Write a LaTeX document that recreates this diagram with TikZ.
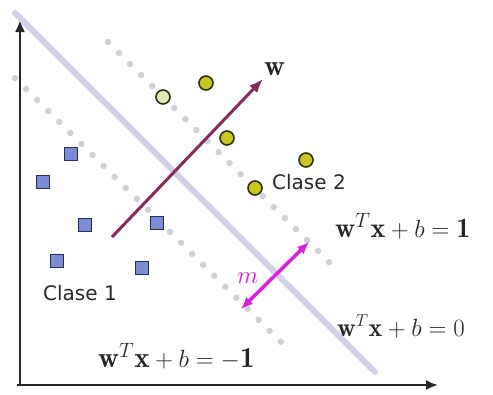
\documentclass[tikz,border=0pt]{standalone}
\usepackage{amsmath}
\usepackage{fontspec}
\newfontfamily\labelfont{DejaVu Sans}
\usetikzlibrary{arrows.meta}
\definecolor{hyper}{RGB}{208,208,230}
\definecolor{dotc}{RGB}{208,208,216}
\definecolor{wcol}{RGB}{135,42,92}
\definecolor{mcol}{RGB}{222,30,222}
\definecolor{sqfill}{RGB}{125,140,215}
\definecolor{sqdraw}{RGB}{40,45,85}
\definecolor{cfill}{RGB}{200,200,30}
\definecolor{cfillpale}{RGB}{226,232,182}
\definecolor{cdraw}{RGB}{45,45,25}
\definecolor{txt}{RGB}{40,40,40}
\tikzset{
  axis/.style={line width=2pt, draw=black!85, -{Latex[length=12pt,width=10pt]}},
  hyperline/.style={line width=6pt, draw=hyper, line cap=round},
  marginline/.style={line width=6.5pt, draw=dotc, line cap=round, dash pattern=on 0pt off 15.6pt},
  sqpt/.style={draw=sqdraw, fill=sqfill, line width=1.4pt, minimum size=13pt, inner sep=0pt, rectangle},
  cpt/.style={draw=cdraw, fill=cfill, line width=1.6pt, circle, minimum size=14pt, inner sep=0pt},
  clabel/.style={font=\labelfont\fontsize{20}{22}\selectfont, text=txt, inner sep=0pt, anchor=base west},
  eqlabel/.style={inner sep=0pt, anchor=base west, text=black!85}
}
\begin{document}
\begin{tikzpicture}[x=1pt,y=-1pt]
\useasboundingbox (0,0) rectangle (493,394);
% axes
\coordinate (o) at (20,385);
\coordinate (ytip) at (20,20);
\coordinate (xtip) at (438,385);
\coordinate (xo) at (17,385);
\draw[axis] (o) -- (ytip);
\draw[axis] (xo) -- (xtip);
% hyperplane and margins
\coordinate (h1) at (15,13);
\coordinate (h2) at (375,372);
\draw[hyperline] (h1) -- (h2);
\coordinate (u1) at (108,42);
\coordinate (u2) at (338,271);
\draw[marginline] (u1) -- (u2);
\coordinate (l1) at (15,78);
\coordinate (l2) at (288,349);
\draw[marginline] (l1) -- (l2);
% class 1 squares
\node[sqpt] (s1) at (71,154) {};
\node[sqpt] (s2) at (43,182) {};
\node[sqpt] (s3) at (85,225) {};
\node[sqpt] (s4) at (157,223) {};
\node[sqpt] (s5) at (57,261) {};
\node[sqpt] (s6) at (142,268) {};
% class 2 circles
\node[cpt, fill=cfillpale] (c1) at (163,97) {};
\node[cpt] (c2) at (206,83) {};
\node[cpt] (c3) at (227,138) {};
\node[cpt] (c4) at (306,160) {};
\node[cpt] (c5) at (255,188) {};
% w vector
\coordinate (w0) at (112,237);
\coordinate (w1) at (263,79);
\draw[line width=3pt, draw=wcol, -{Latex[length=14pt,width=11pt]}] (w0) -- (w1);
\node[eqlabel, font=\fontsize{29}{30}\selectfont] (wl) at (264,75) {$\mathbf{w}$};
% margin arrow
\coordinate (m0) at (241,309);
\coordinate (m1) at (309,242);
\draw[line width=3.5pt, draw=mcol, {Latex[length=12pt,width=10pt]}-{Latex[length=12pt,width=10pt]}] (m0) -- (m1);
\node[eqlabel, text=mcol, font=\fontsize{27}{28}\selectfont] (ml) at (237,283) {$m$};
% labels
\node[clabel] (cl1) at (43,300) {Clase 1};
\node[clabel] (cl2) at (272,189) {Clase 2};
\node[eqlabel, font=\fontsize{28}{30}\selectfont] (e1) at (335,237) {$\mathbf{w}^T\mathbf{x}+b=\mathbf{1}$};
\node[eqlabel, font=\fontsize{26}{28}\selectfont] (e0) at (337,336) {$\mathbf{w}^T\mathbf{x}+b=0$};
\node[eqlabel, font=\fontsize{29}{30}\selectfont] (em) at (98,367) {$\mathbf{w}^T\mathbf{x}+b=-\mathbf{1}$};
\end{tikzpicture}
\end{document}
